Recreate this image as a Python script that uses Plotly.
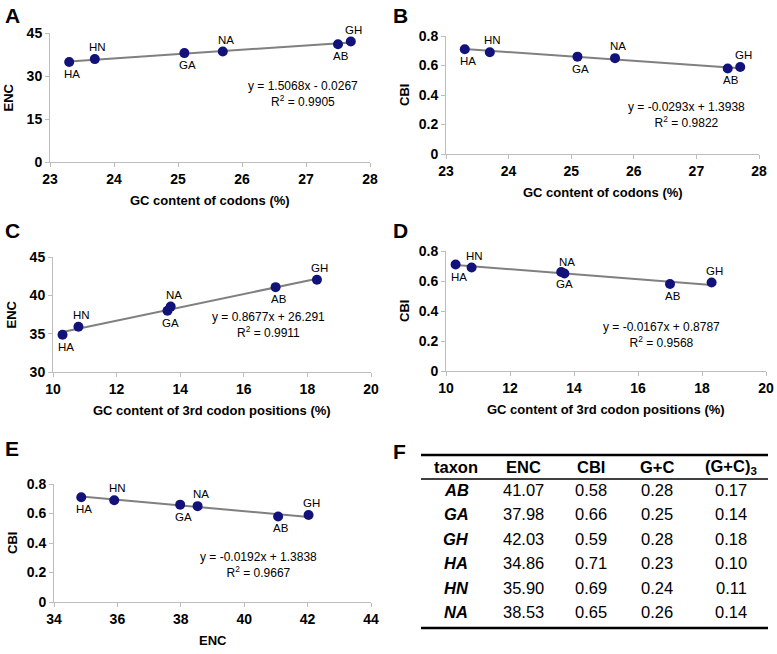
import plotly.graph_objects as go

# data
taxa = ["AB", "GA", "GH", "HA", "HN", "NA"]
enc = [41.07, 37.98, 42.03, 34.86, 35.90, 38.53]
cbi = [0.58, 0.66, 0.59, 0.71, 0.69, 0.65]
gc = [0.28, 0.25, 0.28, 0.23, 0.24, 0.26]
gc3 = [0.17, 0.14, 0.18, 0.10, 0.11, 0.14]

# GC % (more precise than the table)
gc_pct = [27.5, 25.1, 27.7, 23.3, 23.7, 25.7]
gc3_pct = [17.0, 13.6, 18.3, 10.3, 10.8, 13.7]

# fitted trendlines (slope, intercept) and R2 as printed
slopes = [1.5068, -0.0293, 0.8677, -0.0167, -0.0192]
intercepts = [-0.0267, 1.3938, 26.291, 0.8787, 1.3838]
r2 = [0.9905, 0.9822, 0.9911, 0.9568, 0.9667]
equations = ["y = 1.5068x - 0.0267", "y = -0.0293x + 1.3938", "y = 0.8677x + 26.291",
             "y = -0.0167x + 0.8787", "y = -0.0192x + 1.3838"]

W, H = 777, 654
FONT = "Liberation Sans, Arial, sans-serif"
NAVY = "#12127a"

# panel specs: letter, x, y, titles, ranges, ticks, pixel box, equation centre, letter pos
panels = [
    dict(letter="A", x=gc_pct, y=enc, xt="GC content of codons (%)", yt="ENC",
         xr=[23, 28], yr=[0, 45], xtv=[23, 24, 25, 26, 27, 28], ytv=[0, 15, 30, 45],
         box=(50, 370, 33, 162), eq=(303, 94), lp=(3, 2)),
    dict(letter="B", x=gc_pct, y=cbi, xt="GC content of codons (%)", yt="CBI",
         xr=[23, 28], yr=[0, 0.8], xtv=[23, 24, 25, 26, 27, 28], ytv=[0, 0.2, 0.4, 0.6, 0.8],
         box=(446, 759, 36, 154), eq=(686, 115), lp=(391, 2)),
    dict(letter="C", x=gc3_pct, y=enc, xt="GC content of 3rd codon positions (%)", yt="ENC",
         xr=[10, 20], yr=[30, 45], xtv=[10, 12, 14, 16, 18, 20], ytv=[30, 35, 40, 45],
         box=(53, 371, 257, 372), eq=(268, 325), lp=(3, 217)),
    dict(letter="D", x=gc3_pct, y=cbi, xt="GC content of 3rd codon positions (%)", yt="CBI",
         xr=[10, 20], yr=[0, 0.8], xtv=[10, 12, 14, 16, 18, 20], ytv=[0, 0.2, 0.4, 0.6, 0.8],
         box=(446, 766, 251, 371), eq=(661, 335), lp=(391, 217)),
    dict(letter="E", x=enc, y=cbi, xt="ENC", yt="CBI",
         xr=[34, 44], yr=[0, 0.8], xtv=[34, 36, 38, 40, 42, 44], ytv=[0, 0.2, 0.4, 0.6, 0.8],
         box=(54, 371, 484, 602), eq=(258, 565), lp=(3, 435)),
]
# label above (-1) or below (+1) its point
side = dict(HA=1, HN=-1, GA=1, NA=-1, AB=1, GH=-1)

fig = go.Figure()
annotations = []
shapes = []


def ann(x, y, text, size, bold=False, **kw):
    d = dict(x=x / W, y=1 - y / H, xref="paper", yref="paper", showarrow=False, text=text,
             xanchor="center", yanchor="middle",
             font=dict(family=FONT, size=size, color="black", weight="bold" if bold else "normal"))
    d.update(kw)
    annotations.append(d)


for i, p in enumerate(panels):
    n = i + 1
    xa = "x" if n == 1 else f"x{n}"
    ya = "y" if n == 1 else f"y{n}"
    x0, x1, y0, y1 = p["box"]
    axis_common = dict(showgrid=False, zeroline=False, showline=True, linecolor="#bdbdbd",
                       linewidth=1, ticks="outside", ticklen=4, tickcolor="#bdbdbd", automargin=False,
                       tickfont=dict(family=FONT, size=14, color="black", weight="bold"))
    fig.update_layout({
        f"xaxis{'' if n == 1 else n}": dict(domain=[x0 / W, x1 / W], anchor=ya, range=p["xr"],
                                            tickvals=p["xtv"], **axis_common),
        f"yaxis{'' if n == 1 else n}": dict(domain=[1 - y1 / H, 1 - y0 / H], anchor=xa, range=p["yr"],
                                            tickvals=p["ytv"], **axis_common),
    })
    # trendline
    xmin, xmax = min(p["x"]), max(p["x"])
    fig.add_trace(go.Scatter(x=[xmin, xmax], y=[slopes[i] * xmin + intercepts[i], slopes[i] * xmax + intercepts[i]],
                             mode="lines", line=dict(color="#808080", width=2), xaxis=xa, yaxis=ya,
                             showlegend=False, hoverinfo="skip"))
    fig.add_trace(go.Scatter(x=p["x"], y=p["y"], mode="markers", marker=dict(color=NAVY, size=10),
                             xaxis=xa, yaxis=ya, showlegend=False))
    # point labels
    for t, xv, yv in zip(taxa, p["x"], p["y"]):
        annotations.append(dict(x=xv, y=yv, xref=xa, yref=ya, text=t, showarrow=False,
                                xanchor="center", yanchor="middle",
                                xshift=3, yshift=-12 * side[t], font=dict(family=FONT, size=11.5, color="black")))
    # equation
    ex, ey = p["eq"]
    ann(ex, ey, f"{equations[i]}<br>R<sup>2</sup> = {r2[i]:.4f}", 12, align="center")
    # axis titles
    ann((x0 + x1) / 2, y1 + 38, p["xt"], 13, bold=True)
    ann(x0 - 42, (y0 + y1) / 2, p["yt"], 13, bold=True, textangle=-90)
    # panel letter
    lx, ly = p["lp"]
    ann(lx, ly, p["letter"], 21, bold=True, xanchor="left", yanchor="top")

# panel F: table
ann(391, 438, "F", 21, bold=True, xanchor="left", yanchor="top")
col_x = [456, 523, 591, 657, 731]
headers = ["taxon", "ENC", "CBI", "G+C", "(G+C)<sub>3</sub>"]
for cx, h in zip(col_x, headers):
    ann(cx, 467, h, 16.5, bold=True)
for r, t in enumerate(taxa):
    ry = 490 + r * 24.4
    row = [f"<b><i>{t}</i></b>", f"{enc[r]:.2f}", f"{cbi[r]:.2f}", f"{gc[r]:.2f}", f"{gc3[r]:.2f}"]
    for cx, v in zip(col_x, row):
        ann(cx, ry, v, 16.5)
for ly, lw in [(455, 2.5), (479, 1.5), (628, 2.5)]:
    shapes.append(dict(type="line", xref="paper", yref="paper", x0=421 / W, x1=768 / W,
                       y0=1 - ly / H, y1=1 - ly / H, line=dict(color="black", width=lw)))

fig.update_layout(width=W, height=H, margin=dict(l=0, r=0, t=0, b=0, pad=0),
                  plot_bgcolor="white", paper_bgcolor="white",
                  annotations=annotations, shapes=shapes)

# drop the browser's default body margin so the figure sits at the page corner
fig.write_html("out.html", config={"displayModeBar": False},
               post_script="document.body.style.margin='0';")
